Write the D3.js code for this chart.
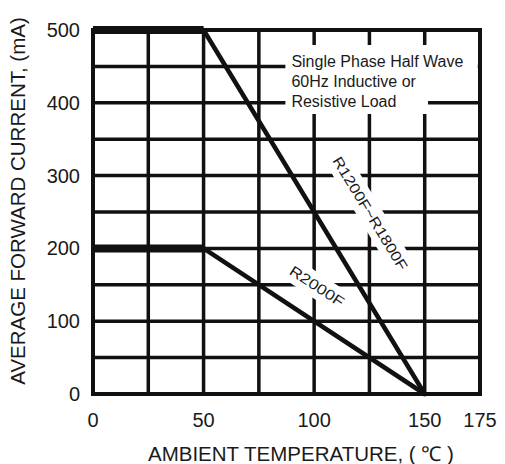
<!DOCTYPE html>
<html>
<head>
<meta charset="utf-8">
<script src="https://cdn.jsdelivr.net/npm/d3@7"></script>
<style>
  body { margin: 0; background: #fff; }
  text { font-family: "Liberation Sans", Arial, sans-serif; fill: #1a1a1a; }
</style>
</head>
<body>
<div id="chart"></div>
<script>
// Tick labels and grid positions
const tempTicks = [0, 50, 100, 150, 175];
const currentTicks = [0, 100, 200, 300, 400, 500];
const tempGrid = [25, 50, 75, 100, 125, 150];
const currentGrid = [50, 100, 150, 200, 250, 300, 350, 400, 450];

// Derating curves
const temps = [0, 50, 150];
const r1200Current = [500, 500, 0];
const r2000Current = [200, 200, 0];
const seriesNames = ["R1200F~R1800F", "R2000F"];
// label anchor (temperature, current)
const labelTemp = [125.3, 101.3];
const labelCurrent = [248, 148];
const labelLength = [130, 62];

const noteLines = ["Single Phase Half Wave", "60Hz Inductive or", "Resistive Load"];

const width = 505;
const height = 464;
const margin = { top: 30, right: 25, bottom: 70, left: 93 };

const svg = d3.select("#chart")
    .append("svg")
    .attr("width", width)
    .attr("height", height);

const x = d3.scaleLinear()
    .domain([0, 175])
    .range([margin.left, width - margin.right]);

const y = d3.scaleLinear()
    .domain([0, 500])
    .range([height - margin.bottom, margin.top]);

// Grid
svg.append("g")
    .selectAll("line")
    .data(tempGrid)
    .join("line")
    .attr("x1", d => x(d)).attr("x2", d => x(d))
    .attr("y1", y(0)).attr("y2", y(500))
    .attr("stroke", "#111")
    .attr("stroke-width", 3.5);

svg.append("g")
    .selectAll("line")
    .data(currentGrid)
    .join("line")
    .attr("x1", x(0)).attr("x2", x(175))
    .attr("y1", d => y(d)).attr("y2", d => y(d))
    .attr("stroke", "#111")
    .attr("stroke-width", 3.5);

// Frame
svg.append("rect")
    .attr("x", x(0))
    .attr("y", y(500))
    .attr("width", x(175) - x(0))
    .attr("height", y(0) - y(500))
    .attr("fill", "none")
    .attr("stroke", "#111")
    .attr("stroke-width", 4);

// Note box (white knock-out behind the text)
const noteX = x(87);
svg.append("rect")
    .attr("x", noteX).attr("y", 45)
    .attr("width", x(174) - noteX).attr("height", 31)
    .attr("fill", "#fff");
svg.append("rect")
    .attr("x", noteX).attr("y", 74)
    .attr("width", x(151.5) - noteX).attr("height", 40)
    .attr("fill", "#fff");

svg.append("g")
    .selectAll("text")
    .data(noteLines)
    .join("text")
    .attr("x", noteX + 6)
    .attr("y", (d, i) => 67 + i * 20)
    .style("font-size", "16px")
    .text(d => d);

// Curves
const series = [r1200Current, r2000Current];
const segs = [];
series.forEach((vals, s) => {
    for (let i = 0; i < temps.length - 1; i++) {
        segs.push({ t0: temps[i], t1: temps[i + 1], c0: vals[i], c1: vals[i + 1] });
    }
});

svg.append("g")
    .selectAll("line")
    .data(segs)
    .join("line")
    .attr("x1", d => x(d.t0)).attr("x2", d => x(d.t1))
    .attr("y1", d => y(d.c0)).attr("y2", d => y(d.c1))
    .attr("stroke", "#111")
    .attr("stroke-linecap", d => d.c0 === d.c1 ? "butt" : "round")
    .attr("stroke-width", d => d.c0 === d.c1 ? 8 : 4.5);

// Curve labels, rotated along the falling segment
const labels = svg.append("g")
    .selectAll("g")
    .data(seriesNames)
    .join("g")
    .attr("transform", (d, i) => {
        const vals = series[i];
        const ang = Math.atan2(y(vals[2]) - y(vals[1]), x(temps[2]) - x(temps[1])) * 180 / Math.PI;
        return `translate(${x(labelTemp[i])},${y(labelCurrent[i])}) rotate(${ang})`;
    });

labels.append("rect")
    .attr("x", (d, i) => -labelLength[i] / 2 - 4)
    .attr("y", -12)
    .attr("width", (d, i) => labelLength[i] + 8)
    .attr("height", 24)
    .attr("fill", "#fff");

labels.append("text")
    .attr("text-anchor", "middle")
    .attr("dy", "0.35em")
    .attr("textLength", (d, i) => labelLength[i])
    .attr("lengthAdjust", "spacingAndGlyphs")
    .style("font-size", "14.5px")
    .text(d => d);

// Tick labels
svg.append("g")
    .selectAll("text")
    .data(currentTicks)
    .join("text")
    .attr("x", x(0) - 13)
    .attr("y", d => y(d))
    .attr("dy", "0.35em")
    .attr("text-anchor", "end")
    .style("font-size", "20px")
    .text(d => d);

svg.append("g")
    .selectAll("text")
    .data(tempTicks)
    .join("text")
    .attr("x", d => x(d))
    .attr("y", y(0) + 33)
    .attr("text-anchor", "middle")
    .style("font-size", "20px")
    .text(d => d);

// Axis titles
svg.append("text")
    .attr("x", 148)
    .attr("y", 461)
    .style("font-size", "20.5px")
    .text("AMBIENT TEMPERATURE, ( ℃ )");

svg.append("text")
    .attr("transform", "translate(25,201) rotate(-90)")
    .attr("text-anchor", "middle")
    .style("font-size", "20.5px")
    .text("AVERAGE FORWARD CURRENT, (mA)");
</script>
</body>
</html>
